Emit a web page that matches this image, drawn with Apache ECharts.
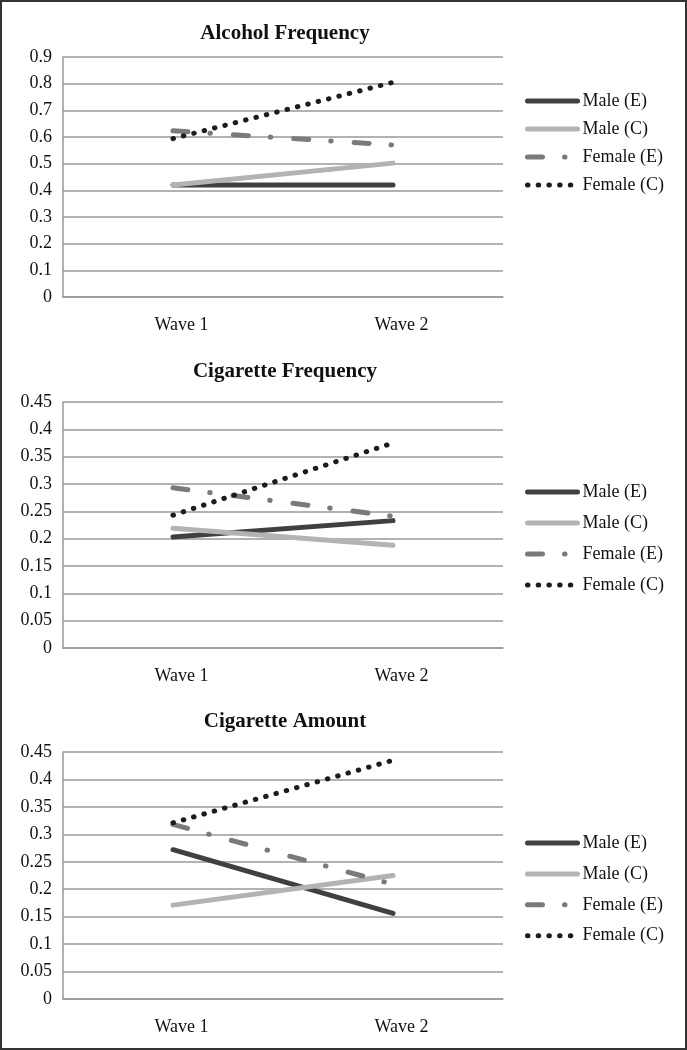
<!DOCTYPE html>
<html>
<head>
<meta charset="utf-8">
<script src="https://cdn.jsdelivr.net/npm/echarts@6/dist/echarts.min.js"></script>
<style>
  html, body { margin: 0; padding: 0; background: #fff; }
  .wrap { position: relative; width: 687px; height: 1050px; }
  .charts { width: 687px; height: 1050px; }
  .frame { position: absolute; left: 0; top: 0; right: 0; bottom: 0; border: 2px solid #333; pointer-events: none; }
</style>
</head>
<body>
<div class="wrap">
  <div class="charts" id="charts"></div>
  <div class="frame"></div>
</div>
<script>
const waves = ['Wave 1', 'Wave 2'];
const groups = ['Male (E)', 'Male (C)', 'Female (E)', 'Female (C)'];
const titles = ['Alcohol Frequency', 'Cigarette Frequency', 'Cigarette Amount'];

// values per group, order as in groups
const alcoholFrequency = [[0.42, 0.42], [0.42, 0.502], [0.623, 0.57], [0.594, 0.805]];
const cigaretteFrequency = [[0.203, 0.233], [0.219, 0.188], [0.293, 0.241], [0.243, 0.375]];
const cigaretteAmount = [[0.272, 0.156], [0.171, 0.225], [0.318, 0.209], [0.321, 0.435]];

const axisMax = [0.9, 0.45, 0.45];
const axisStep = [0.1, 0.05, 0.05];

const panels = [alcoholFrequency, cigaretteFrequency, cigaretteAmount];

// layout of each panel
const gridTop = [57, 402, 752];
const gridHeight = [240, 246, 247];
const titleTop = [18, 356, 706];
const legendTop = [87, 478, 829];
const legendGap = [10, 13, 12.9];

const font = 'Liberation Serif';
const lineStyles = [
  { color: '#404040', width: 5, type: 'solid', cap: 'round' },
  { color: '#b3b3b3', width: 5, type: 'solid', cap: 'round' },
  { color: '#7a7a7a', width: 5, type: [15, 22, 0.5, 23], cap: 'round' },
  { color: '#1c1c1c', width: 5, type: [0.5, 10.2], cap: 'round' }
];

let myChart = echarts.init(document.getElementById('charts'));

let option = {
  animation: false,
  title: [], legend: [], grid: [], xAxis: [], yAxis: [], series: []
};

panels.forEach(function (values, p) {
  option.title.push({
    text: titles[p],
    left: 280,
    top: titleTop[p],
    textAlign: 'center',
    textStyle: { fontFamily: font, fontSize: 21, fontWeight: 'bold', color: '#111' }
  });
  option.legend.push({
    data: groups,
    orient: 'vertical',
    left: 520,
    top: legendTop[p],
    itemWidth: 50,
    itemHeight: 14,
    itemGap: legendGap[p],
    selectedMode: false,
    itemStyle: { opacity: 0 },
    lineStyle: { width: 5 },
    textStyle: { fontFamily: font, fontSize: 18, color: '#111' }
  });
  option.grid.push({
    left: 63,
    right: 184,
    top: gridTop[p],
    height: gridHeight[p]
  });
  option.xAxis.push({
    type: 'category',
    gridIndex: p,
    data: waves,
    boundaryGap: true,
    axisTick: { show: false },
    axisLine: { lineStyle: { color: '#999', width: 1.5 } },
    axisLabel: { fontFamily: font, fontSize: 18, color: '#111', margin: 19, padding: [0, 0, 0, 17] }
  });
  option.yAxis.push({
    type: 'value',
    gridIndex: p,
    min: 0,
    max: axisMax[p],
    interval: axisStep[p],
    axisLine: { show: true, lineStyle: { color: '#999', width: 1.5 } },
    axisTick: { show: false },
    splitLine: { lineStyle: { color: '#999', width: 1.5 } },
    axisLabel: { fontFamily: font, fontSize: 18, color: '#111', margin: 11 }
  });
  values.forEach(function (v, i) {
    option.series.push({
      name: groups[i],
      type: 'line',
      xAxisIndex: p,
      yAxisIndex: p,
      data: v,
      symbol: 'none',
      silent: true,
      itemStyle: { color: lineStyles[i].color },
      lineStyle: lineStyles[i],
      z: 2 + i
    });
  });
});

myChart.setOption(option);
</script>
</body>
</html>
